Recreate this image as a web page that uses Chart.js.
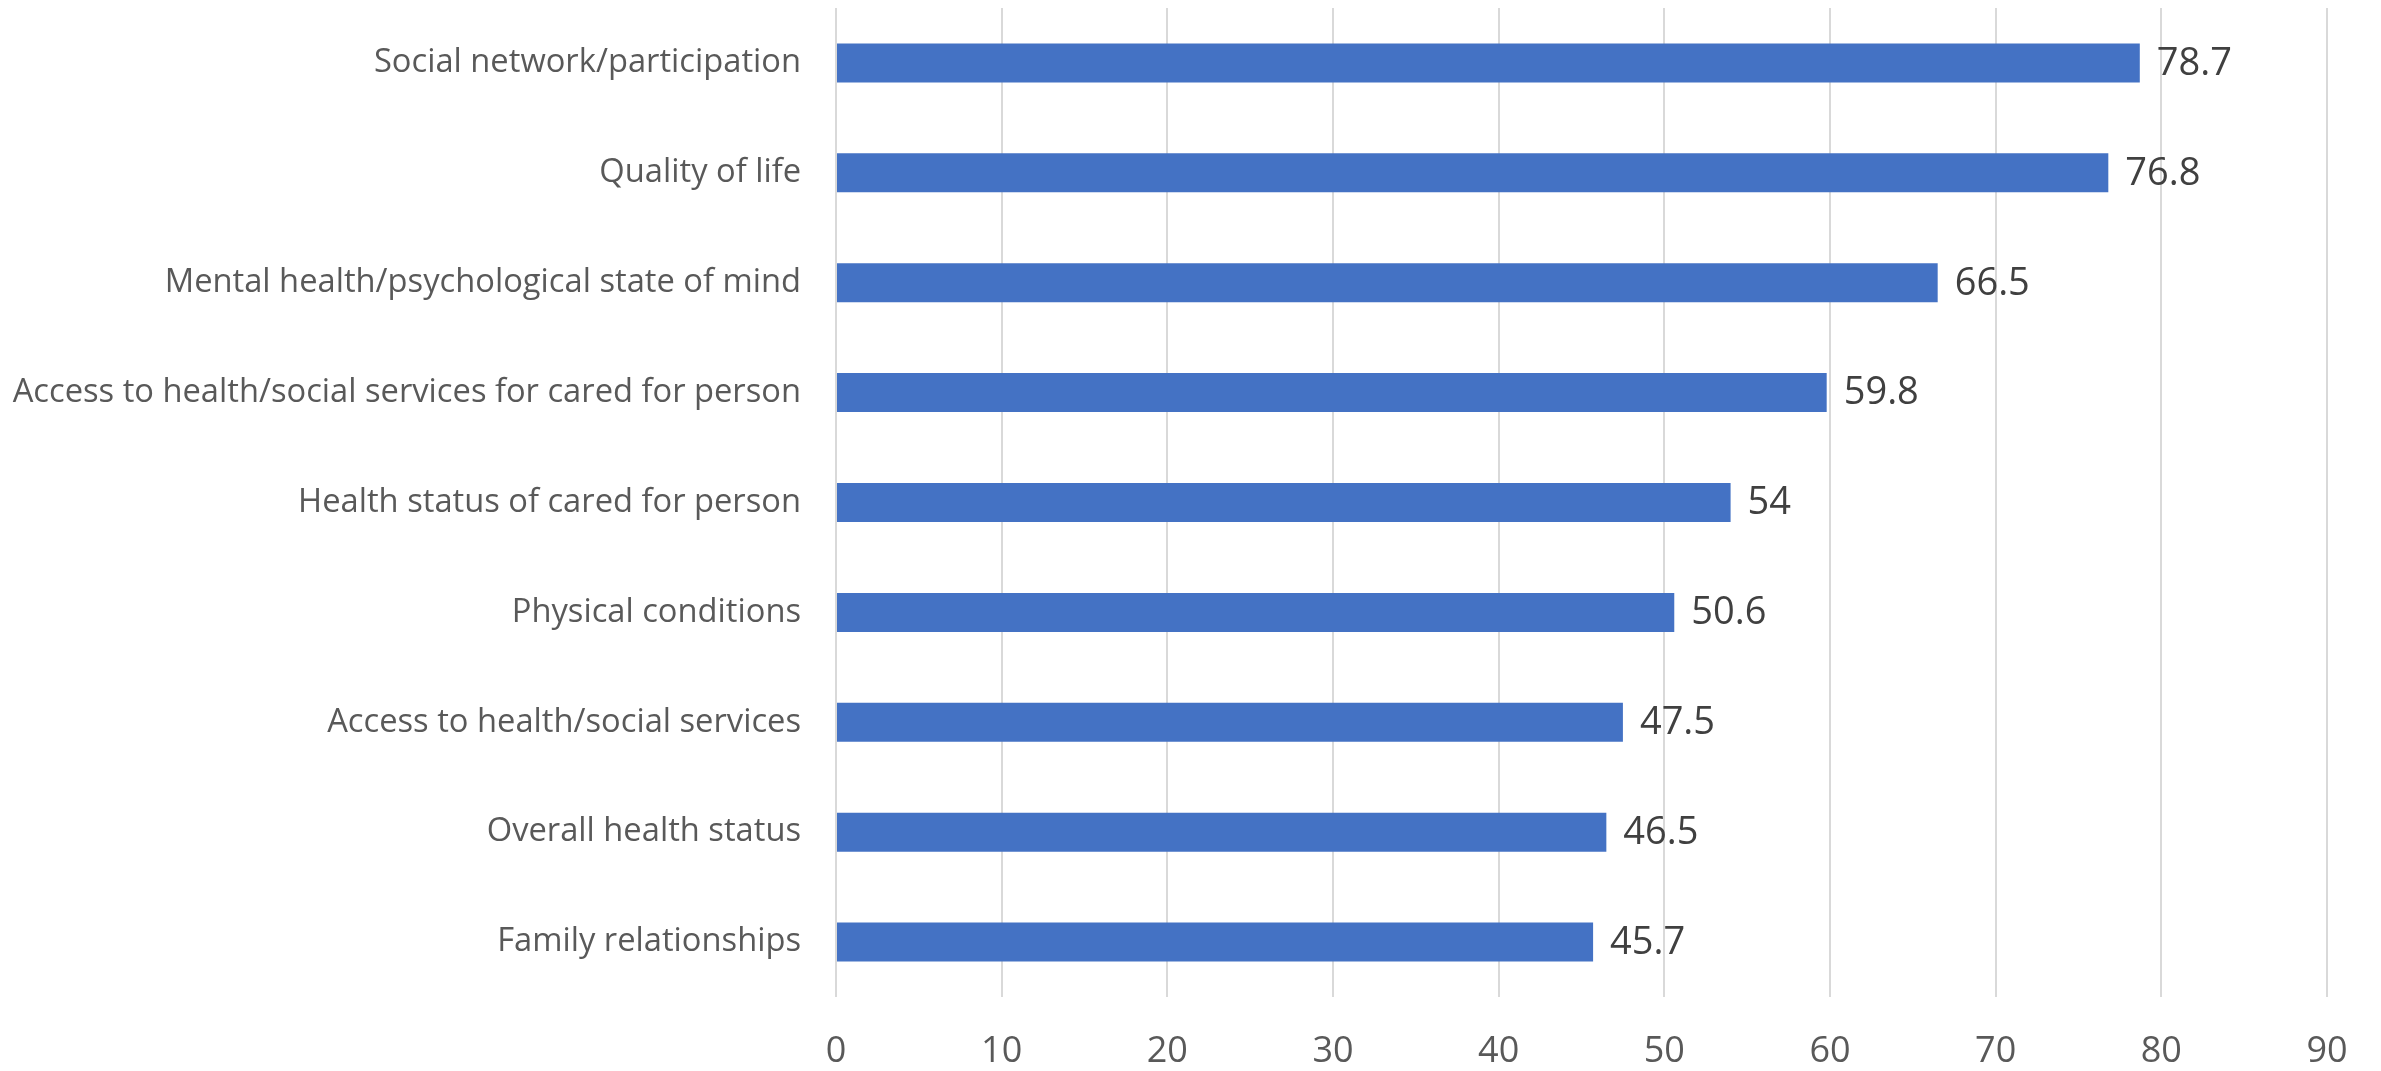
<!DOCTYPE html>
<html>
<head>
<meta charset="utf-8">
<script src="https://cdn.jsdelivr.net/npm/chart.js@4.4.1/dist/chart.umd.min.js"></script>
<style>
  html, body { margin: 0; padding: 0; background: #ffffff; }
  #chart { display: block; }
</style>
</head>
<body>
<canvas id="chart" width="2381" height="1071"></canvas>
<script>
// Data
const categories = [
    'Social network/participation',
    'Quality of life',
    'Mental health/psychological state of mind',
    'Access to health/social services for cared for person',
    'Health status of cared for person',
    'Physical conditions',
    'Access to health/social services',
    'Overall health status',
    'Family relationships'
];
const values = [78.7, 76.8, 66.5, 59.8, 54, 50.6, 47.5, 46.5, 45.7];
const xMin = 0;
const xMax = 90;
const xStep = 10;

// value labels at the end of each bar
const valueLabels = {
    id: 'valueLabels',
    afterDatasetsDraw(chart) {
        const ctx = chart.ctx;
        const meta = chart.getDatasetMeta(0);
        ctx.save();
        ctx.font = '38px "Open Sans"';
        ctx.fillStyle = '#404040';
        ctx.textAlign = 'left';
        ctx.textBaseline = 'middle';
        meta.data.forEach((bar, i) => {
            ctx.fillText(String(values[i]), bar.x + 17, bar.y + 1);
        });
        ctx.restore();
    }
};

new Chart(document.getElementById('chart').getContext('2d'), {
    type: 'bar',
    data: {
        labels: categories,
        datasets: [{
            data: values,
            backgroundColor: '#4472C4',
            borderWidth: 0,
            categoryPercentage: 1,
            barPercentage: 0.355
        }]
    },
    options: {
        indexAxis: 'y',
        responsive: false,
        animation: false,
        layout: { padding: { top: 8, right: 54, bottom: 0, left: 0 } },
        plugins: {
            legend: { display: false },
            tooltip: { enabled: false }
        },
        scales: {
            x: {
                min: xMin,
                max: xMax,
                ticks: {
                    stepSize: xStep,
                    padding: 33,
                    color: '#595959',
                    font: { family: 'Open Sans', size: 36 }
                },
                grid: { color: '#d9d9d9', lineWidth: 2, drawTicks: false },
                border: { display: false },
                afterFit(scale) { scale.height = 74; }
            },
            y: {
                ticks: {
                    padding: 27,
                    color: '#595959',
                    font: { family: 'Open Sans', size: 32.7 }
                },
                grid: { display: false },
                border: { display: false },
                afterFit(scale) {
                    scale.width = 836;
                    scale.paddingTop = 0;
                    scale.paddingBottom = 0;
                }
            }
        }
    },
    plugins: [valueLabels]
});
</script>
</body>
</html>
